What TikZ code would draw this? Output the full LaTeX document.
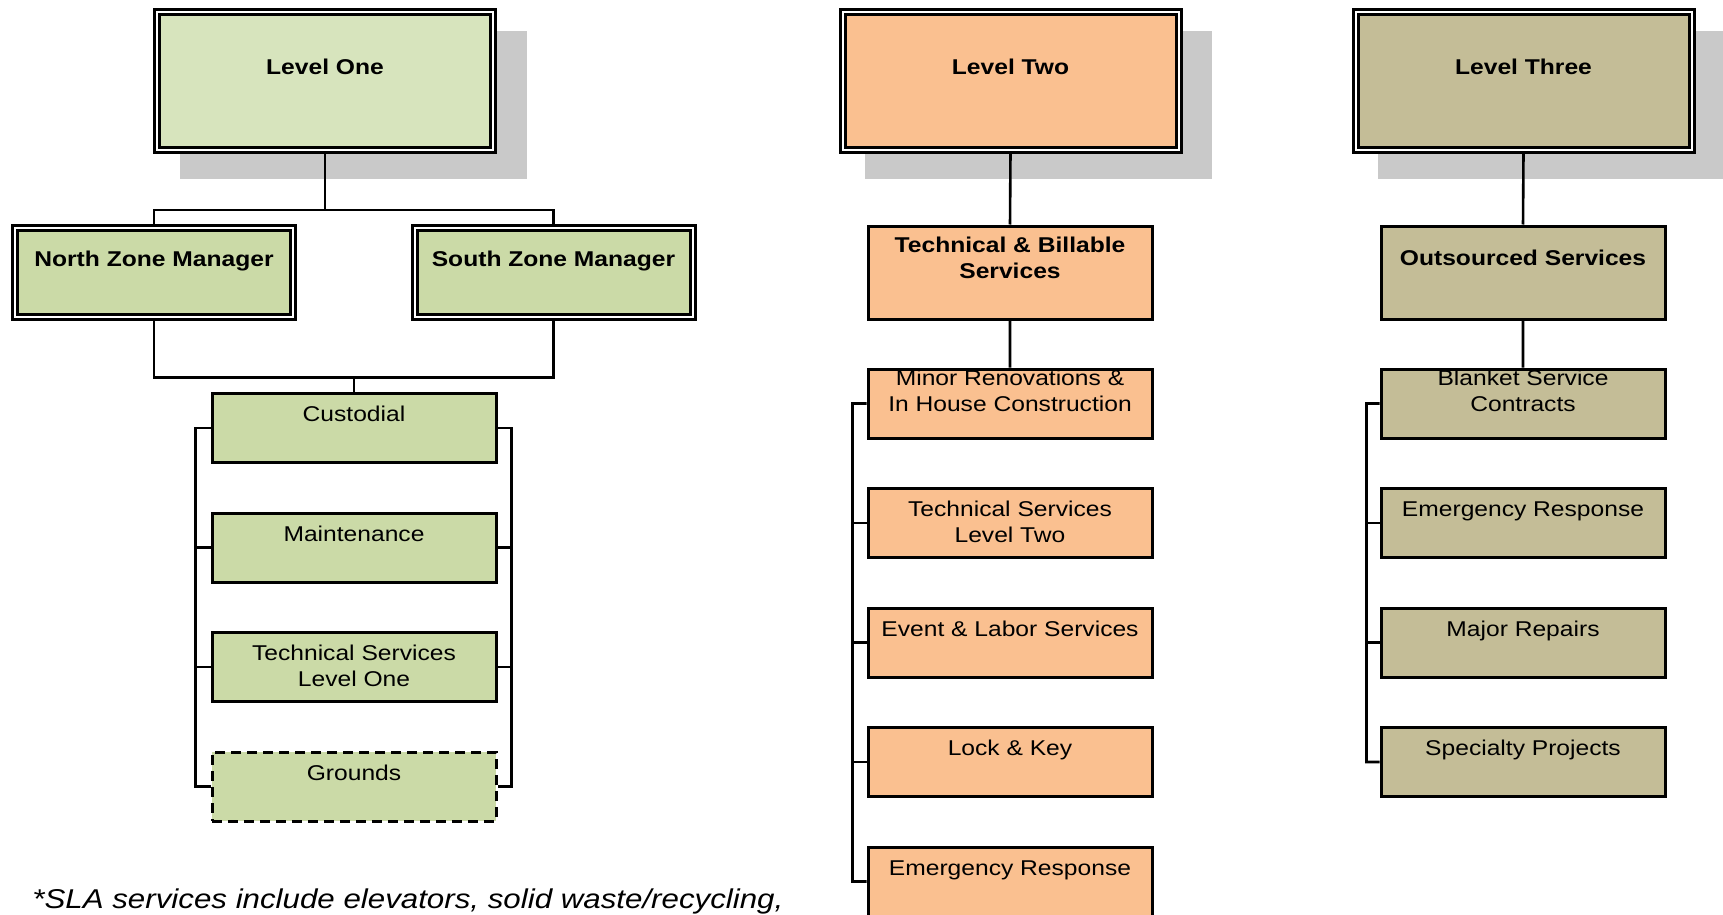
\documentclass[tikz,border=0pt]{standalone}
\usepackage{fontspec}
\setmainfont[FakeStretch=1.15]{Liberation Sans}
\usetikzlibrary{calc, positioning, backgrounds}

\definecolor{greentop}{HTML}{D7E4BD}
\definecolor{greenbox}{HTML}{CBDAA7}
\definecolor{orangebox}{HTML}{FAC090}
\definecolor{tanbox}{HTML}{C4BD97}
\definecolor{shadowgray}{HTML}{C9C9C9}

\newcommand{\chartfont}{\fontsize{10.7}{13}\selectfont}

\tikzset{
    levelbox/.style={draw, double=white, double distance=1pt, line width=1.5pt, inner sep=0pt, anchor=north,
        minimum width=168pt, text height=31pt, text depth=37.5pt, align=center, font=\bfseries\chartfont},
    zonebox/.style={levelbox, minimum width=139pt, text height=19.5pt, text depth=25pt},
    unitbox/.style={draw, line width=1.5pt, inner sep=0pt, anchor=north, minimum width=142pt,
        text height=14pt, text depth=20.5pt, align=center, font=\chartfont},
    unittwo/.style={unitbox, text height=27pt, text depth=7.5pt},
    unithigh/.style={unitbox, text height=21.25pt, text depth=13.25pt},
    midbox/.style={unitbox, font=\bfseries\chartfont, text height=19.75pt, text depth=26.75pt},
    midtwo/.style={midbox, text height=26.25pt, text depth=20.25pt},
    link/.style={line width=1.3pt}
}

\begin{document}
\begin{tikzpicture}[x=0.5pt, y=-0.5pt]
                    \clip (0, 0) rectangle (1723, 915);

                    \node[levelbox, fill=greentop] (lone) at (325, 11) {Level One};
                    \node[levelbox, fill=orangebox] (ltwo) at (1010.5, 11) {Level Two};
                    \node[levelbox, fill=tanbox] (lthree) at (1523.5, 11) {Level Three};

                    \node[zonebox, fill=greenbox] (north) at (154, 226) {North Zone Manager};
                    \node[zonebox, fill=greenbox] (south) at (553.5, 226) {South Zone Manager};
                    \node[midtwo, fill=orangebox] (tbs) at (1010, 224.5) {Technical \& Billable\\Services};
                    \node[midbox, fill=tanbox] (outs) at (1523, 224.5) {Outsourced Services};

                    \foreach \name/\txt [count=\i from 0] in {cust/Custodial, mtce/Maintenance} {
                        \node[unitbox, fill=greenbox] (\name) at (354, 392 + 119.5*\i) {\txt};
                    }
                    \node[unittwo, fill=greenbox] (tsone) at (354, 631) {Technical Services\\Level One};
                    \node[unitbox, fill=greenbox, dash pattern=on 5pt off 3pt] (grnd) at (354, 750.5) {Grounds};

                    \node[unithigh, fill=orangebox] (minor) at (1010, 367.5) {Minor Renovations \&\\In House Construction};
                    \node[unittwo, fill=orangebox] (tstwo) at (1010, 487) {Technical Services\\Level Two};
                    \foreach \name/\txt [count=\i from 2] in {event/Event \& Labor Services, lock/Lock \& Key, emtwo/Emergency Response} {
                        \node[unitbox, fill=orangebox] (\name) at (1010, 367.5 + 119.5*\i) {\txt};
                    }

                    \node[unithigh, fill=tanbox] (blanket) at (1523, 367.5) {Blanket Service\\Contracts};
                    \foreach \name/\txt [count=\i from 1] in {emthree/Emergency Response, major/Major Repairs, spec/Specialty Projects} {
                        \node[unitbox, fill=tanbox] (\name) at (1523, 367.5 + 119.5*\i) {\txt};
                    }

                    \node[anchor=base west, inner sep=0pt, font=\itshape\fontsize{13.6}{16}\selectfont] (note) at (32, 908)
                        {*SLA services include elevators, solid waste/recycling,};

                    \begin{scope}[on background layer]
                        \foreach \lvl in {lone, ltwo, lthree} {
                            \fill[shadowgray] ($(\lvl.north west) + (24, 20)$) rectangle ($(\lvl.south east) + (32, 28)$);
                        }

                        \coordinate (zsplit) at (0, 210);
                        \coordinate (zjoin) at (0, 377.5);
                        \draw[link]
                        (lone.south) -- (lone.south |- zsplit)
                        (north.north) |- (zsplit -| south.north) -- (south.north)
                        (north.south) |- (zjoin -| south.south) -- (south.south)
                        (cust.north) -- (cust.north |- zjoin)
                        (cust.west) -- ++(-15, 0) |- (grnd.west)
                        (cust.east) -- ++(14, 0) |- (grnd.east);
                        \foreach \b in {mtce, tsone} {
                            \draw[link] (\b.west) -- ++(-15, 0) (\b.east) -- ++(14, 0);
                        }

                        \draw[link]
                        (ltwo.south) -- (tbs.north)
                        (tbs.south) -- (minor.north)
                        (minor.west) -- ++(-14, 0) |- (emtwo.west);
                        \foreach \b in {tstwo, event, lock} {
                            \draw[link] (\b.west) -- ++(-14, 0);
                        }

                        \draw[link]
                        (lthree.south) -- (outs.north)
                        (outs.south) -- (blanket.north)
                        (blanket.west) -- ++(-13, 0) |- (spec.west);
                        \foreach \b in {emthree, major} {
                            \draw[link] (\b.west) -- ++(-13, 0);
                        }
                    \end{scope}
                \end{tikzpicture}
\end{document}
